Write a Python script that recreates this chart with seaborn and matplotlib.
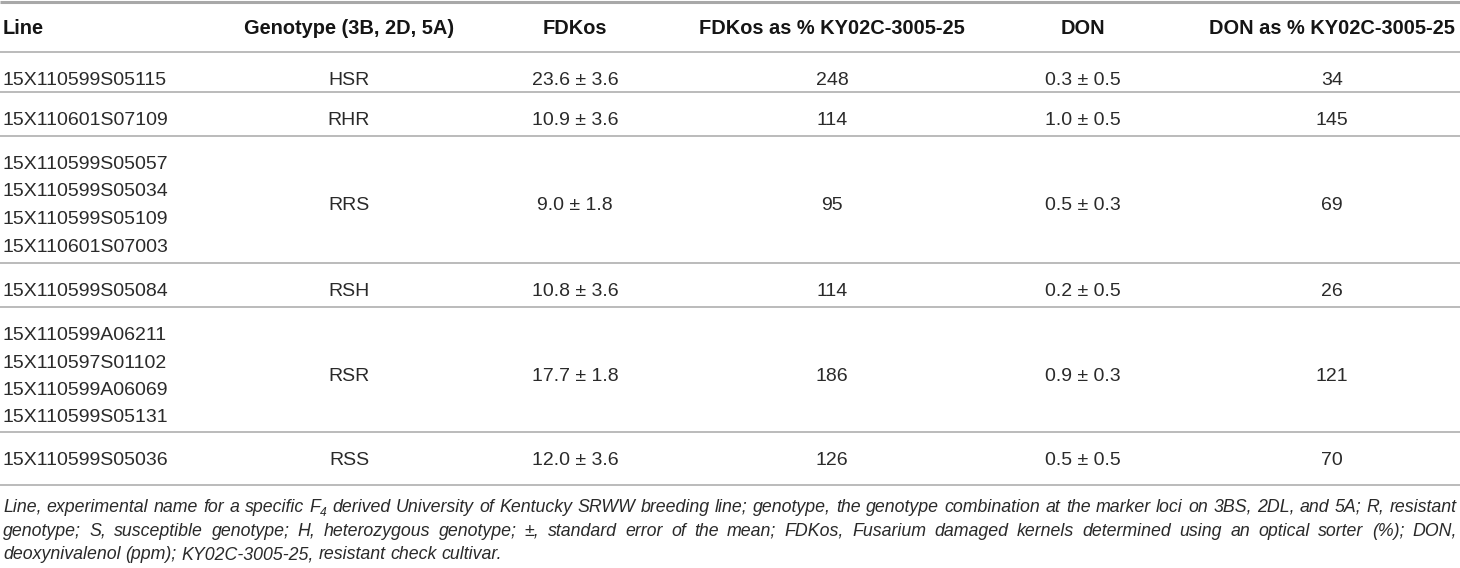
import numpy as np
import pandas as pd
import matplotlib
matplotlib.use('Agg')
import matplotlib.pyplot as plt
import seaborn as sns

# table content
columns = ['Line', 'Genotype (3B, 2D, 5A)', 'FDKos', 'FDKos as % KY02C-3005-25',
           'DON', 'DON as % KY02C-3005-25']
line_names = [
    ['15X110599S05115'],
    ['15X110601S07109'],
    ['15X110599S05057', '15X110599S05034', '15X110599S05109', '15X110601S07003'],
    ['15X110599S05084'],
    ['15X110599A06211', '15X110597S01102', '15X110599A06069', '15X110599S05131'],
    ['15X110599S05036'],
]
genotypes = ['HSR', 'RHR', 'RRS', 'RSH', 'RSR', 'RSS']
fdk_mean = [23.6, 10.9, 9.0, 10.8, 17.7, 12.0]
fdk_se = [3.6, 3.6, 1.8, 3.6, 1.8, 3.6]
fdk_pct = [248, 114, 95, 114, 186, 126]
don_mean = [0.3, 1.0, 0.5, 0.2, 0.9, 0.5]
don_se = [0.5, 0.5, 0.3, 0.5, 0.3, 0.5]
don_pct = [34, 145, 69, 26, 121, 70]

footnote = [
    "Line, experimental name for a specific F4 derived University of Kentucky SRWW breeding line; "
    "genotype, the genotype combination at the marker loci on 3BS, 2DL, and 5A; R, resistant",
    "genotype; S, susceptible genotype; H, heterozygous genotype; \u00b1, standard error of the mean; "
    "FDKos, Fusarium damaged kernels determined using an optical sorter (%); DON,",
    "deoxynivalenol (ppm); KY02C-3005-25, resistant check cultivar.",
]

df = pd.DataFrame({
    'names': line_names, 'geno': genotypes,
    'fdk': [f"{m:.1f} \u00b1 {s:.1f}" for m, s in zip(fdk_mean, fdk_se)],
    'fdk_pct': [str(v) for v in fdk_pct],
    'don': [f"{m:.1f} \u00b1 {s:.1f}" for m, s in zip(don_mean, don_se)],
    'don_pct': [str(v) for v in don_pct],
})

sns.set_theme(style='white')
plt.rcParams['font.family'] = ['Liberation Sans', 'DejaVu Sans']

W, H = 1460, 568
fig = plt.figure(figsize=(W / 100, H / 100), dpi=100)
ax = fig.add_axes([0, 0, 1, 1])
ax.set_xlim(0, W)
ax.set_ylim(H, 0)
ax.axis('off')

# layout (pixels)
rule_color = '#a8a8a8'
rules_y = [52, 92, 136, 263, 307, 432, 485]
col_x = [3, 349, 575, 832, 1083, 1332]
body_size = 14.0
head_size = 14.4
body_color = '#2a2a2a'
line_step = 27.5

ax.hlines(1.5, 0, W, color=rule_color, lw=2.2)
ax.hlines(rules_y, 0, W, color=rule_color, lw=1.1)

# header
for i, c in enumerate(columns):
    ax.text(col_x[i], 34, c, ha='left' if i == 0 else 'center', va='baseline',
            fontsize=head_size, fontweight='bold', color='#151515')

# rows
for r, row in df.iterrows():
    top = rules_y[r]
    first = top + 26
    for k, nm in enumerate(row['names']):
        ax.text(col_x[0], first + k * line_step + 7, nm, ha='left', va='baseline',
                fontsize=body_size, color=body_color)
    mid = first + (len(row['names']) - 1) * line_step / 2 + 7
    for i, key in enumerate(['geno', 'fdk', 'fdk_pct', 'don', 'don_pct'], start=1):
        ax.text(col_x[i], mid, row[key], ha='center', va='baseline',
                fontsize=body_size, color=body_color)

# footnote, justified like the journal layout
fig.canvas.draw()
renderer = fig.canvas.get_renderer()


def word_width(s, size):
    if s == 'F4':
        return word_width('F', size) + word_width('4', size * 0.68)
    t = ax.text(0, 0, s, fontsize=size, style='italic')
    w = t.get_window_extent(renderer).width
    t.remove()
    return w


def draw_word(x, y, s, size):
    if s == 'F4':
        ax.text(x, y, 'F', fontsize=size, style='italic', color=body_color, va='baseline')
        wf = word_width('F', size)
        ax.text(x + wf, y + 4, '4', fontsize=size * 0.68, style='italic',
                color=body_color, va='baseline')
        return
    ax.text(x, y, s, fontsize=size, style='italic', color=body_color, va='baseline')


foot_size = 12.75
x0, x1 = 3, 1457
foot_base = [512, 536, 559]
for j, txt in enumerate(footnote):
    words = txt.split(' ')
    size = foot_size
    while True:
        widths = [word_width(w, size) for w in words]
        gap = (x1 - x0 - sum(widths)) / (len(words) - 1)
        if gap >= 3.5 or j == len(footnote) - 1:
            break
        size -= 0.1
    if j == len(footnote) - 1:
        gap = word_width('a a', size) - 2 * word_width('a', size)
    x = x0
    for w, wd in zip(words, widths):
        draw_word(x, foot_base[j], w, size)
        x += wd + gap

fig.savefig('out.png', dpi=100)
